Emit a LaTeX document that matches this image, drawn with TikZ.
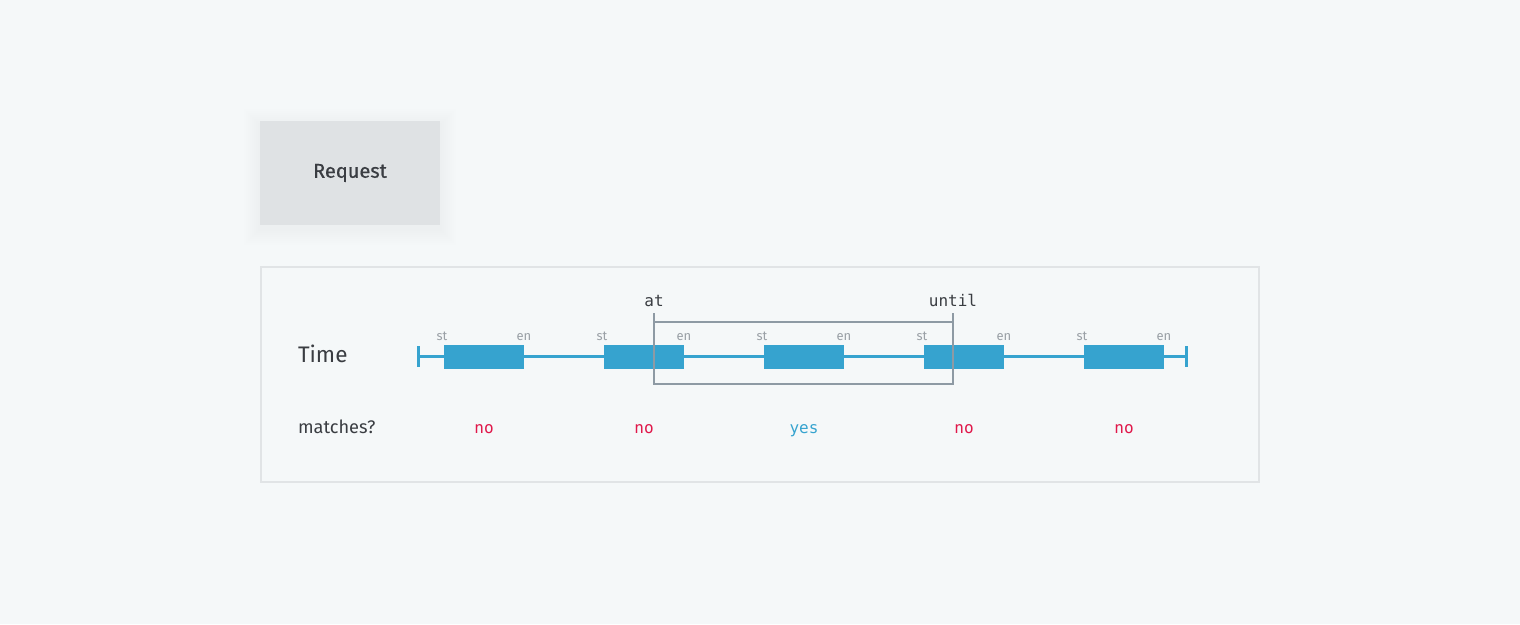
\documentclass[tikz,border=0pt]{standalone}
\usepackage{fontspec}
\setmainfont{Fira Sans}
\setsansfont{Fira Sans}
\setmonofont{DejaVu Sans Mono}
\newfontfamily\reqfont[FakeBold=0.6]{Fira Sans}
\definecolor{bgc}{HTML}{F5F8F9}
\definecolor{reqfill}{HTML}{DFE2E4}
\definecolor{panelline}{HTML}{E1E4E6}
\definecolor{tblue}{HTML}{36A3CF}
\definecolor{wingray}{HTML}{8E9AA4}
\definecolor{lblgray}{HTML}{9AA0A6}
\definecolor{txt}{HTML}{3A3D42}
\definecolor{nored}{HTML}{E0174A}
\tikzset{
  every node/.style={inner sep=0pt, outer sep=0pt},
  blockbox/.style={fill=tblue, draw=none},
  tickmark/.style={draw=tblue, line width=3pt},
  tline/.style={draw=tblue, line width=3pt},
  winline/.style={draw=wingray, line width=1.4pt},
  stlbl/.style={font=\fontsize{13}{15}\selectfont, text=lblgray},
  mlbl/.style={font=\ttfamily\fontsize{16}{18}\selectfont, text=txt},
  noans/.style={font=\ttfamily\fontsize{16}{18}\selectfont, text=nored},
  yesans/.style={font=\ttfamily\fontsize{16}{18}\selectfont, text=tblue},
}
\begin{document}
\begin{tikzpicture}[x=1pt,y=-1pt]
\fill[bgc] (0,0) rectangle (1520,624);
\useasboundingbox (0,0) rectangle (1520,624);
% request shadow (soft)
\foreach \i in {2,4,...,16}{
  \fill[black,opacity=0.0035] (260-\i,125-\i) rectangle (440+\i,229+\i);
}
\node[fill=reqfill, minimum width=180pt, minimum height=104pt, anchor=north west,
  font=\reqfont\fontsize{20}{24}\selectfont, text=txt] (req) at (260,121) {Request};
% panel
\node[draw=panelline, line width=1.5pt, fill=bgc, minimum width=998pt, minimum height=215pt, anchor=north west] (panel) at (261,267) {};
\node[anchor=base west, font=\fontsize{22.5}{26}\selectfont, text=txt] (time) at (298,362) {Time};
\node[anchor=base west, font=\fontsize{18.2}{21}\selectfont, text=txt] (matches) at (298,433) {matches?};
% timeline
\coordinate (t0) at (418,356);
\coordinate (t1) at (1186,356);
\draw[tline] (t0) -- (t1);
\draw[tickmark] (418,346) -- (418,367);
\draw[tickmark] (1186,346) -- (1186,367);
\foreach \x/\n in {444/1,604/2,764/3,924/4,1084/5}{
  \fill[blockbox] (\x,345) rectangle (\x+80,369);
  \node[stlbl, anchor=base] (st\n) at (\x-2,340) {st};
  \node[stlbl, anchor=base] (en\n) at (\x+80,340) {en};
}
% window
\coordinate (wa) at (654,313);
\coordinate (wb) at (953,313);
\draw[winline] (wa) -- (654,384) -- (953,384) -- (wb);
\draw[winline] (654,322) -- (953,322);
\node[mlbl, anchor=base] (at) at (654,306) {at};
\node[mlbl, anchor=base] (until) at (953,306) {until};
% answers
\node[noans, anchor=base] (a1) at (484,433) {no};
\node[noans, anchor=base] (a2) at (644,433) {no};
\node[yesans, anchor=base] (a3) at (804,433) {yes};
\node[noans, anchor=base] (a4) at (964,433) {no};
\node[noans, anchor=base] (a5) at (1124,433) {no};
\end{tikzpicture}
\end{document}
